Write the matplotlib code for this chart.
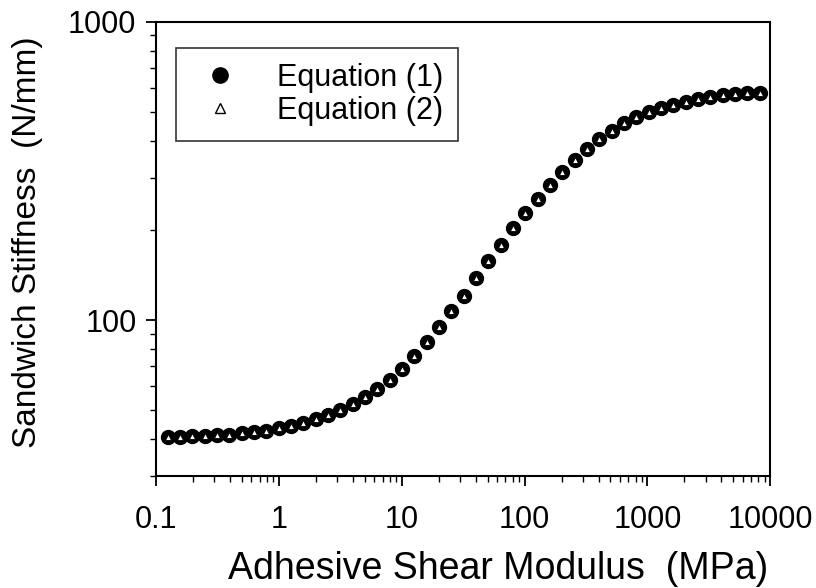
import matplotlib.pyplot as plt
from matplotlib.ticker import FixedLocator, FixedFormatter, NullFormatter

plt.rcParams['font.family'] = ['Liberation Sans', 'DejaVu Sans']

# adhesive shear modulus (MPa)
modulus = [0.125, 0.157, 0.198, 0.25, 0.315, 0.397, 0.5, 0.63, 0.794, 1.0,
           1.26, 1.587, 2.0, 2.52, 3.17, 4.0, 5.04, 6.35, 8.0, 10.08,
           12.7, 16.0, 20.2, 25.4, 32.0, 40.3, 50.8, 64.0, 80.6, 101.6,
           128, 161, 203, 256, 323, 406, 512, 645, 813, 1024,
           1290, 1625, 2048, 2580, 3251, 4096, 5161, 6502, 8192]

# sandwich stiffness (N/mm)
stiff_eq1 = [40.5, 40.5, 40.8, 40.8, 41.1, 41.4, 41.8, 42.1, 42.7, 43.4,
             44.1, 45.1, 46.5, 48.0, 49.9, 52.2, 55.1, 58.7, 62.9, 68.5,
             75.7, 84.4, 94.7, 107, 121, 138, 158, 178, 204, 229,
             255, 284, 314, 344, 375, 405, 431, 458, 480, 499,
             515, 527, 539, 552, 560, 569, 573, 578, 578]
stiff_eq2 = list(stiff_eq1)

xticks = [0.1, 1, 10, 100, 1000, 10000]
xlabels = ['0.1', '1', '10', '100', '1000', '10000']
yticks = [100, 1000]
ylabels = ['100', '1000']

fig = plt.figure(figsize=(8.16, 5.88), dpi=100)
ax = fig.add_axes([0.191, 0.19, 0.753, 0.773])

ax.plot(modulus, stiff_eq1, 'o', color='black', markersize=10,
        label='Equation (1)', zorder=3)
ax.plot(modulus, stiff_eq2, '^', markerfacecolor='white', markeredgecolor='black',
        markeredgewidth=0.6, markersize=4.5, label='Equation (2)', zorder=4)

ax.set_xscale('log')
ax.set_yscale('log')
ax.set_xlim(0.1, 10000)
ax.set_ylim(30, 1000)

ax.xaxis.set_major_locator(FixedLocator(xticks))
ax.xaxis.set_major_formatter(FixedFormatter(xlabels))
ax.xaxis.set_minor_formatter(NullFormatter())
ax.yaxis.set_major_locator(FixedLocator(yticks))
ax.yaxis.set_major_formatter(FixedFormatter(ylabels))
ax.yaxis.set_minor_formatter(NullFormatter())

ax.tick_params(which='major', direction='out', length=7, width=1.3,
               labelsize=22)
ax.tick_params(axis='x', which='major', pad=14)
ax.tick_params(axis='y', which='major', pad=7)
ax.tick_params(which='minor', direction='out', length=4, width=1.0)
for s in ax.spines.values():
    s.set_linewidth(1.5)

ax.set_xlabel('Adhesive Shear Modulus  (MPa)', fontsize=27)
ax.set_ylabel('Sandwich Stiffness  (N/mm)', fontsize=24)
ax.xaxis.set_label_coords(0.557, -0.164)
ax.yaxis.set_label_coords(-0.184, 0.515)

leg = ax.legend(loc='upper left', bbox_to_anchor=(0.033, 0.943), fontsize=22,
                frameon=True, fancybox=False, edgecolor='black',
                handletextpad=0.9, borderpad=0.5, labelspacing=0.1,
                handlelength=1.9, borderaxespad=0)
leg.get_frame().set_linewidth(1.2)
leg.legend_handles[0].set_markersize(11)
leg.legend_handles[1].set_markersize(6.5)
leg.legend_handles[1].set_markeredgewidth(1.0)

fig.savefig('out.png', dpi=100)
